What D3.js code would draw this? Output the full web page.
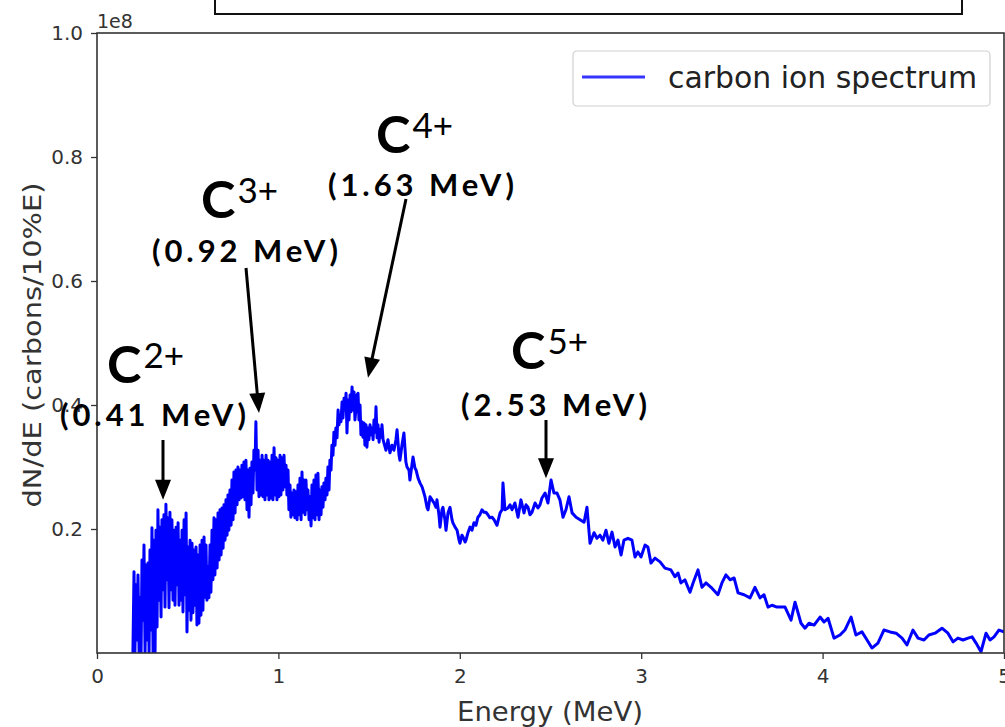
<!DOCTYPE html>
<html>
<head>
<meta charset="utf-8">
<script src="https://cdn.jsdelivr.net/npm/d3@7"></script>
<style>
  body { margin: 0; background: #fff; }
  svg { display: block; font-family: "DejaVu Sans", sans-serif; }
</style>
</head>
<body>
<div id="chart"></div>
<script>
// carbon ion spectrum, energy in MeV
const energy = [
  0.198,0.204,0.209,0.215,0.220,0.226,0.232,0.237,0.243,0.248,
  0.254,0.259,0.265,0.270,0.276,0.281,0.287,0.292,0.298,0.303,
  0.309,0.314,0.320,0.325,0.331,0.336,0.342,0.347,0.353,0.358,
  0.364,0.369,0.375,0.380,0.386,0.391,0.397,0.402,0.408,0.413,
  0.419,0.425,0.430,0.436,0.441,0.447,0.452,0.458,0.463,0.469,
  0.474,0.480,0.485,0.491,0.496,0.502,0.507,0.513,0.518,0.524,
  0.529,0.535,0.540,0.546,0.551,0.557,0.562,0.568,0.573,0.579,
  0.584,0.590,0.595,0.601,0.606,0.612,0.617,0.623,0.628,0.634,
  0.639,0.645,0.650,0.656,0.662,0.667,0.673,0.678,0.684,0.689,
  0.695,0.700,0.706,0.711,0.717,0.722,0.727,0.733,0.739,0.744,
  0.750,0.755,0.761,0.766,0.772,0.777,0.783,0.788,0.794,0.799,
  0.805,0.810,0.816,0.821,0.827,0.832,0.838,0.843,0.849,0.854,
  0.860,0.865,0.871,0.876,0.882,0.888,0.893,0.899,0.904,0.910,
  0.915,0.921,0.926,0.932,0.937,0.943,0.948,0.954,0.959,0.965,
  0.970,0.976,0.981,0.987,0.992,0.998,1.003,1.009,1.014,1.020,
  1.025,1.031,1.036,1.042,1.047,1.053,1.058,1.064,1.069,1.075,
  1.080,1.086,1.091,1.097,1.103,1.108,1.114,1.119,1.125,1.130,
  1.136,1.141,1.147,1.152,1.158,1.163,1.169,1.174,1.180,1.185,
  1.191,1.196,1.202,1.207,1.213,1.218,1.224,1.229,1.235,1.240,
  1.246,1.251,1.257,1.262,1.268,1.273,1.279,1.284,1.290,1.295,
  1.301,1.306,1.312,1.317,1.323,1.329,1.334,1.340,1.345,1.351,
  1.356,1.362,1.367,1.373,1.378,1.384,1.389,1.395,1.400,1.406,
  1.411,1.417,1.422,1.428,1.433,1.439,1.444,1.450,1.455,1.461,
  1.466,1.472,1.477,1.483,1.488,1.494,1.499,1.505,1.510,1.516,
  1.522,1.527,1.533,1.538,1.544,1.549,1.555,1.560,1.566,1.571,
  1.577,
  1.593,1.604,1.615,1.626,1.637,1.648,1.654,1.665,1.670,1.681,
  1.692,1.703,1.709,1.720,1.725,1.736,1.742,1.753,1.759,1.770,
  1.781,1.792,1.797,1.808,1.819,1.825,1.836,1.847,1.858,1.869,
  1.874,1.885,1.891,1.902,1.907,1.918,1.924,1.935,1.946,1.957,
  1.962,1.974,1.985,1.996,2.001,2.012,2.018,2.029,2.034,2.045,
  2.056,2.067,2.078,2.089,2.100,2.111,2.122,2.133,2.144,2.155,
  2.166,2.178,2.189,2.205,2.222,2.233,2.238,2.249,2.266,2.277,
  2.288,2.304,2.321,2.337,2.354,2.365,2.376,2.387,2.398,2.415,
  2.431,2.442,2.453,2.470,2.486,2.503,2.519,2.536,2.552,2.569,
  2.585,2.602,2.619,2.641,2.663,2.685,2.701,2.718,2.740,2.756,
  2.773,2.789,2.806,2.822,2.839,2.856,2.872,2.889,2.905,2.927,
  2.949,2.966,2.982,2.999,3.021,3.037,3.054,3.076,3.104,3.131,
  3.164,3.186,3.203,3.219,3.241,3.269,3.286,3.313,3.335,3.357,
  3.385,3.423,3.445,3.467,3.490,3.512,3.534,3.567,3.600,3.627,
  3.655,3.677,3.699,3.721,3.749,3.793,3.826,3.848,3.881,3.903,
  3.925,3.953,3.986,4.008,4.030,4.063,4.096,4.123,4.157,4.184,
  4.217,4.245,4.272,4.305,4.338,4.372,4.405,4.438,4.465,4.498,
  4.526,4.559,4.586,4.620,4.658,4.691,4.719,4.746,4.774,4.802,
  4.824,4.846,4.873,4.901,4.923,4.945,4.972,5.000,5.033
];

// dN/dE in units of 1e8 carbons / 10%E
const counts = [
  0,0.131,0,0.110,0.021,0.126,0,0.089,0,0.150,
  0.053,0.174,0,0.142,0.021,0.145,0,0.166,0.037,0.202,
  0,0.182,0,0.198,0.042,0.231,0.085,0.203,0.058,0.215,
  0.102,0.223,0.074,0.240,0.118,0.218,0.073,0.227,0.102,0.215,
  0.085,0.198,0.077,0.203,0.110,0.210,0.077,0.182,0.085,0.198,
  0.066,0.215,0.094,0.226,0.034,0.171,0.069,0.182,0.053,0.177,
  0.065,0.166,0.077,0.171,0.045,0.158,0.048,0.174,0.061,0.182,
  0.069,0.187,0.090,0.174,0.085,0.139,0.089,0.174,0.098,0.198,
  0.118,0.218,0.126,0.215,0.137,0.226,0.150,0.231,0.158,0.234,
  0.169,0.239,0.182,0.247,0.190,0.255,0.198,0.263,0.206,0.279,
  0.215,0.292,0.226,0.295,0.239,0.300,0.247,0.295,0.250,0.303,
  0.252,0.308,0.247,0.311,0.231,0.295,0.219,0.298,0.239,0.308,
  0.258,0.327,0.295,0.373,0.263,0.327,0.252,0.311,0.255,0.319,
  0.252,0.311,0.247,0.319,0.255,0.311,0.247,0.308,0.250,0.319,
  0.247,0.331,0.255,0.315,0.247,0.311,0.252,0.319,0.255,0.315,
  0.263,0.319,0.268,0.303,0.255,0.295,0.231,0.271,0.219,0.258,
  0.223,0.263,0.218,0.260,0.215,0.271,0.223,0.282,0.215,0.292,
  0.227,0.279,0.223,0.279,0.231,0.263,0.215,0.252,0.205,0.271,
  0.218,0.279,0.215,0.287,0.223,0.290,0.215,0.263,0.223,0.268,
  0.235,0.274,0.247,0.282,0.255,0.300,0.263,0.311,0.295,0.335,
  0.319,0.356,0.335,0.363,0.347,0.392,0.368,0.384,0.373,0.405,
  0.379,0.411,0.392,0.419,0.355,0.408,0.376,0.416,0.389,0.429,
  0.392,0.421,0.376,0.395,0.416,0.419,0.376,0.400,0.352,0.373,
  0.348,0.371,0.335,0.368,0.332,0.363,0.344,0.368,0.352,0.363,
  0.344,0.376,0.356,0.397,0.347,0.368,0.340,0.360,0.348,0.368,
  0.344,
  0.327,0.344,0.323,0.335,0.327,0.344,0.360,0.319,0.311,0.335,
  0.355,0.308,0.300,0.295,0.279,0.303,0.316,0.298,0.295,0.282,
  0.274,0.268,0.263,0.252,0.235,0.231,0.252,0.247,0.242,0.235,
  0.247,0.223,0.203,0.231,0.235,0.215,0.198,0.226,0.235,0.215,
  0.210,0.203,0.198,0.182,0.177,0.190,0.187,0.179,0.182,0.194,
  0.203,0.198,0.210,0.206,0.219,0.223,0.231,0.227,0.227,0.223,
  0.218,0.219,0.215,0.206,0.226,0.231,0.274,0.231,0.234,0.239,
  0.231,0.242,0.219,0.247,0.226,0.239,0.235,0.223,0.227,0.242,
  0.234,0.239,0.250,0.258,0.242,0.279,0.258,0.258,0.247,0.219,
  0.231,0.252,0.226,0.219,0.215,0.211,0.235,0.177,0.194,0.185,
  0.190,0.182,0.198,0.177,0.195,0.171,0.182,0.158,0.182,0.185,
  0.182,0.155,0.163,0.155,0.174,0.171,0.145,0.153,0.147,0.137,
  0.134,0.123,0.129,0.113,0.118,0.098,0.113,0.134,0.106,0.113,
  0.106,0.094,0.113,0.126,0.118,0.121,0.097,0.094,0.089,0.106,
  0.089,0.094,0.074,0.077,0.074,0.074,0.053,0.082,0.048,0.040,
  0.048,0.045,0.058,0.050,0.056,0.024,0.029,0.037,0.058,0.029,
  0.034,0.021,0.008,0.016,0.037,0.034,0.032,0.024,0.013,0.037,
  0.024,0.021,0.029,0.032,0.040,0.032,0.018,0.024,0.021,0.024,
  0.026,0.016,0.002,0.032,0.021,0.026,0.037,0.034,0.040
];

const xTicks = [0, 1, 2, 3, 4, 5];
const yTicks = [0.2, 0.4, 0.6, 0.8, 1.0];
const seriesName = "carbon ion spectrum";

// peak annotations: charge state, peak energy label, arrow tip (MeV, 1e8)
const peakCharges = ["2+", "3+", "4+", "5+"];
const peakLabels = ["(0.41 MeV)", "(0.92 MeV)", "(1.63 MeV)", "(2.53 MeV)"];
const peakTipE = [0.364, 0.893, 1.494, 2.475];
const peakTipV = [0.247, 0.387, 0.444, 0.282];

// where the annotation texts sit (pixels)
const annotLayout = [
  { cx: 107, cy: 383, lx: 153, ly: 426, ax: 163, ay: 440 },
  { cx: 201, cy: 218, lx: 245, ly: 262, ax: 246, ay: 268 },
  { cx: 376, cy: 153, lx: 421, ly: 196, ax: 406, ay: 199 },
  { cx: 511, cy: 369, lx: 554, ly: 416, ax: 546, ay: 420 }
];

const W = 1005, H = 727;
const margin = { left: 97, right: 1, top: 33, bottom: 74 };
const iw = W - margin.left - margin.right;
const ih = H - margin.top - margin.bottom;

const svg = d3.select("#chart").append("svg")
  .attr("width", W)
  .attr("height", H)
  .style("background-color", "white");

// title box, cut off at the top of the picture
svg.append("rect")
  .attr("x", 215).attr("y", -10)
  .attr("width", 747).attr("height", 24)
  .attr("fill", "white")
  .attr("stroke", "#111")
  .attr("stroke-width", 2);

const g = svg.append("g")
  .attr("transform", "translate(" + margin.left + "," + margin.top + ")");

// Scales
const x = d3.scaleLinear().domain([0, 5]).range([0, iw]);
const y = d3.scaleLinear().domain([0, 1]).range([ih, 0]);

g.append("clipPath").attr("id", "clip")
  .append("rect").attr("width", iw).attr("height", ih);

// Spectrum line
const data = energy.map((e, i) => ({ e: e, v: counts[i] }));
g.append("path")
  .datum(data)
  .attr("clip-path", "url(#clip)")
  .attr("fill", "none")
  .attr("stroke", "#0000ff")
  .attr("stroke-width", 3)
  .attr("stroke-linejoin", "round")
  .attr("d", d3.line().x(d => x(d.e)).y(d => y(d.v)));

// Axes
const xAxis = g.append("g")
  .attr("transform", "translate(0," + ih + ")")
  .call(d3.axisBottom(x).tickValues(xTicks).tickFormat(d3.format("d")).tickSize(6).tickPadding(10));
const yAxis = g.append("g")
  .call(d3.axisLeft(y).tickValues(yTicks).tickFormat(d3.format(".1f")).tickSize(6).tickPadding(8));

[xAxis, yAxis].forEach(a => {
  a.select(".domain").remove();
  a.selectAll("line").attr("stroke", "#333").attr("stroke-width", 1.3);
  a.selectAll("text")
    .attr("fill", "#333")
    .attr("font-family", "DejaVu Sans")
    .attr("font-size", 20);
});
g.selectAll(".tick text").style("font-size", "20px");

// Frame
g.append("rect")
  .attr("width", iw).attr("height", ih)
  .attr("fill", "none")
  .attr("stroke", "#333")
  .attr("stroke-width", 1.6);

// offset text
svg.append("text")
  .attr("x", margin.left)
  .attr("y", 28)
  .attr("fill", "#333")
  .style("font-size", "19px")
  .text("1e8");

// Axis labels
svg.append("text")
  .attr("x", 550)
  .attr("y", 721)
  .attr("text-anchor", "middle")
  .attr("fill", "#333")
  .style("font-size", "27px")
  .attr("textLength", 186)
  .attr("lengthAdjust", "spacingAndGlyphs")
  .text("Energy (MeV)");

svg.append("text")
  .attr("transform", "translate(41,345) rotate(-90)")
  .attr("text-anchor", "middle")
  .attr("fill", "#333")
  .style("font-size", "24px")
  .attr("textLength", 325)
  .attr("lengthAdjust", "spacingAndGlyphs")
  .text("dN/dE (carbons/10%E)");

// Legend
const legend = svg.append("g").attr("transform", "translate(573,51)");
legend.append("rect")
  .attr("width", 417).attr("height", 55)
  .attr("rx", 4)
  .attr("fill", "white")
  .attr("stroke", "#d0d0d0")
  .attr("stroke-width", 1.2);
legend.append("line")
  .attr("x1", 9).attr("x2", 72)
  .attr("y1", 26).attr("y2", 26)
  .attr("stroke", "#3535ff")
  .attr("stroke-width", 3);
legend.append("text")
  .attr("x", 95)
  .attr("y", 37)
  .attr("fill", "#222")
  .style("font-size", "30px")
  .attr("textLength", 309)
  .attr("lengthAdjust", "spacingAndGlyphs")
  .text(seriesName);

// Peak annotations
const ann = svg.append("g").style("font-family", "Lato, 'Noto Sans', sans-serif");
peakCharges.forEach((q, i) => {
  const L = annotLayout[i];
  const t = ann.append("text").attr("x", L.cx).attr("y", L.cy).attr("fill", "black");
  t.append("tspan").style("font-size", "52px").style("font-weight", 700).text("C");
  t.append("tspan").style("font-size", "35px").style("font-weight", 400)
    .attr("dy", -15).attr("dx", 2).text(q);

  ann.append("text")
    .attr("x", L.lx).attr("y", L.ly)
    .attr("text-anchor", "middle")
    .attr("fill", "black")
    .style("font-size", "31px")
    .style("font-weight", 700)
    .attr("textLength", 186)
    .attr("lengthAdjust", "spacing")
    .text(peakLabels[i]);

  // arrow from the label down to the peak
  const tx = margin.left + x(peakTipE[i]);
  const ty = margin.top + y(peakTipV[i]);
  const dx = tx - L.ax, dy = ty - L.ay;
  const len = Math.sqrt(dx * dx + dy * dy);
  const ux = dx / len, uy = dy / len;
  const headL = 20, headW = 8;
  const bx = tx - ux * headL, by = ty - uy * headL;
  ann.append("line")
    .attr("x1", L.ax).attr("y1", L.ay)
    .attr("x2", bx + ux * 2).attr("y2", by + uy * 2)
    .attr("stroke", "black")
    .attr("stroke-width", 3);
  ann.append("path")
    .attr("d", "M" + tx + "," + ty +
      "L" + (bx - uy * headW) + "," + (by + ux * headW) +
      "L" + (bx + uy * headW) + "," + (by - ux * headW) + "Z")
    .attr("fill", "black");
});
</script>
</body>
</html>
